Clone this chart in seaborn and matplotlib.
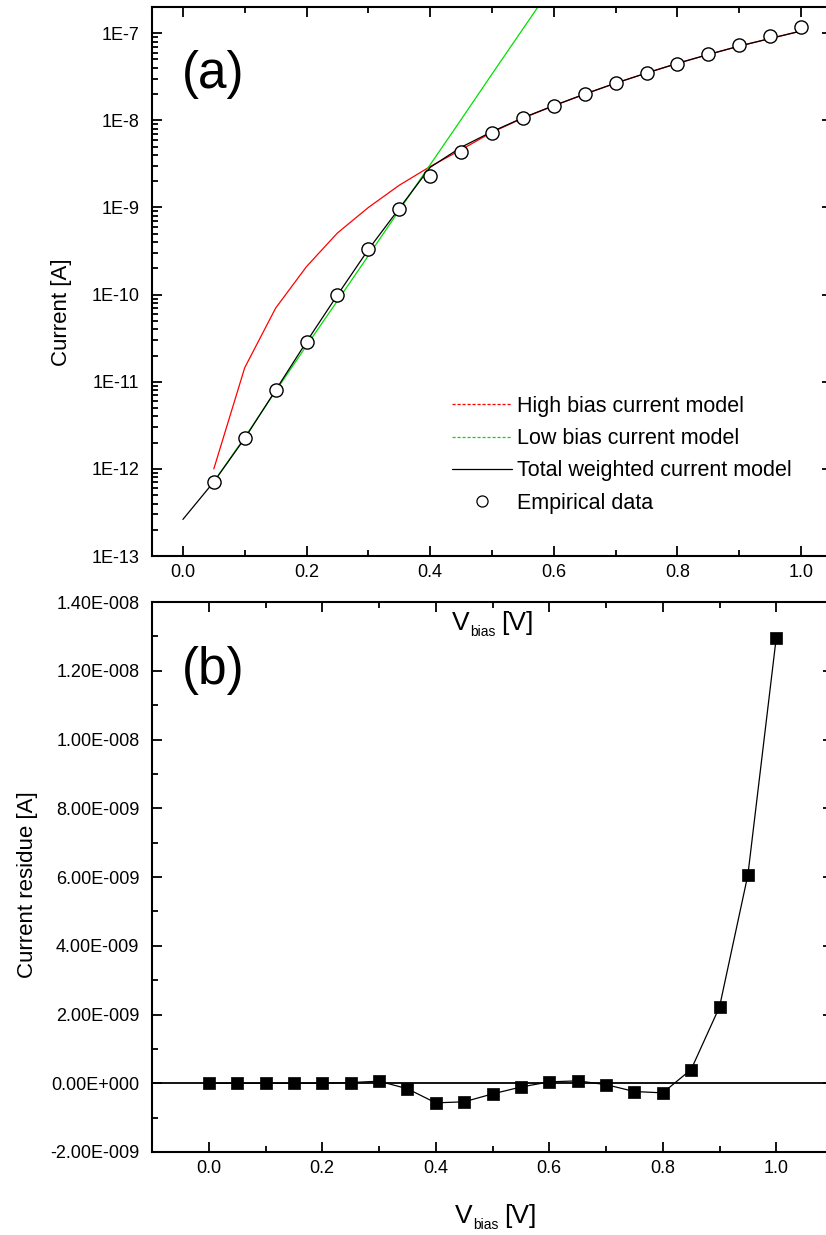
import numpy as np
import pandas as pd
import seaborn as sns
import matplotlib
matplotlib.use("Agg")
import matplotlib.pyplot as plt
from matplotlib.lines import Line2D
from matplotlib.ticker import FixedLocator, LogLocator, MultipleLocator, FuncFormatter, NullFormatter

# ---------------- data ----------------
v_data = [0.05, 0.10, 0.15, 0.20, 0.25, 0.30, 0.35, 0.40, 0.45, 0.50,
          0.55, 0.60, 0.65, 0.70, 0.75, 0.80, 0.85, 0.90, 0.95, 1.00]
i_data = [7.1e-13, 2.24e-12, 8.0e-12, 2.88e-11, 9.9e-11, 3.3e-10, 9.6e-10, 2.32e-9, 4.37e-9, 7.11e-9,
          1.06e-8, 1.48e-8, 2.01e-8, 2.67e-8, 3.47e-8, 4.48e-8, 5.74e-8, 7.34e-8, 9.31e-8, 1.19e-7]

v_total = [0.00, 0.05, 0.10, 0.15, 0.20, 0.25, 0.30, 0.35, 0.40, 0.45, 0.50,
           0.55, 0.60, 0.65, 0.70, 0.75, 0.80, 0.85, 0.90, 0.95, 1.00]
i_total = [2.63e-13, 7.1e-13, 2.24e-12, 8.0e-12, 2.88e-11, 9.9e-11, 3.29e-10, 9.76e-10, 2.89e-9, 4.91e-9, 7.42e-9,
           1.071e-8, 1.476e-8, 2.003e-8, 2.674e-8, 3.494e-8, 4.508e-8, 5.70e-8, 7.12e-8, 8.70e-8, 1.06e-7]

v_high = [0.05, 0.10, 0.15, 0.20, 0.25, 0.30, 0.35, 0.40, 0.45, 0.50,
          0.55, 0.60, 0.65, 0.70, 0.75, 0.80, 0.85, 0.90, 0.95, 1.00]
i_high = [1.0e-12, 1.45e-11, 7.0e-11, 2.1e-10, 5.1e-10, 1.0e-9, 1.8e-9, 2.95e-9, 4.6e-9, 7.3e-9,
          1.06e-8, 1.47e-8, 2.0e-8, 2.67e-8, 3.49e-8, 4.51e-8, 5.7e-8, 7.12e-8, 8.7e-8, 1.06e-7]

v_low = [0.05, 0.10, 0.15, 0.20, 0.25, 0.30, 0.35, 0.40, 0.45, 0.50, 0.55, 0.60]
i_low = [7.1e-13, 2.3e-12, 7.8e-12, 2.6e-11, 8.5e-11, 2.8e-10, 9.3e-10, 3.1e-9, 1.02e-8, 3.4e-8, 1.12e-7, 3.7e-7]

v_res = [0.00, 0.05, 0.10, 0.15, 0.20, 0.25, 0.30, 0.35, 0.40, 0.45, 0.50,
         0.55, 0.60, 0.65, 0.70, 0.75, 0.80, 0.85, 0.90, 0.95, 1.00]
i_res = [0.0, 0.0, 0.0, 0.0, 0.0, 0.02e-9, 0.06e-9, -0.16e-9, -0.57e-9, -0.54e-9, -0.31e-9,
         -0.11e-9, 0.04e-9, 0.07e-9, -0.04e-9, -0.24e-9, -0.28e-9, 0.40e-9, 2.22e-9, 6.06e-9, 12.96e-9]

legend_labels = ["High bias current model", "Low bias current model",
                 "Total weighted current model", "Empirical data"]
x_ticks = [0.0, 0.2, 0.4, 0.6, 0.8, 1.0]
log_ticks = [1e-13, 1e-12, 1e-11, 1e-10, 1e-9, 1e-8, 1e-7]
res_ticks = [-2e-9, 0.0, 2e-9, 4e-9, 6e-9, 8e-9, 1.0e-8, 1.2e-8, 1.4e-8]

df_data = pd.DataFrame({"V": v_data, "I": i_data})
df_total = pd.DataFrame({"V": v_total, "I": i_total})
df_high = pd.DataFrame({"V": v_high, "I": i_high})
df_low = pd.DataFrame({"V": v_low, "I": i_low})
df_res = pd.DataFrame({"V": v_res, "R": i_res})

# ---------------- style ----------------
sns.set_style("ticks")
plt.rcParams["font.family"] = ["Liberation Sans", "DejaVu Sans"]
plt.rcParams["text.color"] = "black"
plt.rcParams["axes.labelcolor"] = "black"

W, H = 826, 1235
fig = plt.figure(figsize=(W / 100, H / 100), dpi=100)
ax1 = fig.add_axes([152 / W, 1 - 556 / H, 680 / W, 549 / H])
ax2 = fig.add_axes([152 / W, 1 - 1152 / H, 681 / W, 550 / H])

RED = "#ff0000"
GREEN = "#00e000"

# ---------------- panel (a) ----------------
sns.lineplot(data=df_high, x="V", y="I", ax=ax1, color=RED, lw=0.9, estimator=None, sort=False)
sns.lineplot(data=df_low, x="V", y="I", ax=ax1, color=GREEN, lw=0.9, estimator=None, sort=False)
sns.lineplot(data=df_total, x="V", y="I", ax=ax1, color="black", lw=0.9, estimator=None, sort=False)
sns.scatterplot(data=df_data, x="V", y="I", ax=ax1, marker="o", s=90, facecolor="white",
                edgecolor="black", linewidth=1.0, zorder=5)
ax1.set_yscale("log")
ax1.set_ylim(1e-13, 2e-7)
ax1.set_xlim(-0.05, 1.05)
ax1.yaxis.set_major_locator(FixedLocator(log_ticks))
ax1.yaxis.set_major_formatter(FuncFormatter(lambda v, p: "1E%d" % int(round(np.log10(v)))))
ax1.yaxis.set_minor_locator(LogLocator(base=10, subs=np.arange(2, 10), numticks=20))
ax1.yaxis.set_minor_formatter(NullFormatter())
ax1.xaxis.set_major_locator(FixedLocator(x_ticks))
ax1.xaxis.set_minor_locator(MultipleLocator(0.1))
ax1.xaxis.set_major_formatter(FuncFormatter(lambda v, p: "%.1f" % v))
ax1.set_xlabel("")
ax1.set_ylabel("Current [A]", fontsize=16)
ax1.yaxis.set_label_coords(-0.1176, 0.444)

handles = [
    Line2D([], [], color=RED, lw=0.9, ls=(0, (2.5, 1.5))),
    Line2D([], [], color=GREEN, lw=0.9, ls=(0, (2.5, 1.5))),
    Line2D([], [], color="black", lw=0.9),
    Line2D([], [], color="black", ls="none", marker="o", markersize=8,
           markerfacecolor="white", markeredgecolor="black", markeredgewidth=0.9),
]
ax1.legend(handles, legend_labels, loc="upper left", bbox_to_anchor=(452 / W, 1 - 396 / H),
           bbox_transform=fig.transFigure, frameon=False, borderpad=0, borderaxespad=0,
           handlelength=2.8, handletextpad=0.24, labelspacing=0.52, fontsize=15.5)

# ---------------- panel (b) ----------------
ax2.axhline(0, color="black", lw=1.3, zorder=1)
sns.lineplot(data=df_res, x="V", y="R", ax=ax2, color="black", lw=0.9, estimator=None, sort=False, zorder=2)
sns.scatterplot(data=df_res, x="V", y="R", ax=ax2, marker="s", s=80, color="black",
                edgecolor="black", linewidth=0.5, zorder=5)
ax2.set_xlim(-0.1, 1.1)
ax2.set_ylim(-2e-9, 1.4e-8)
ax2.yaxis.set_major_locator(FixedLocator(res_ticks))
ax2.yaxis.set_minor_locator(MultipleLocator(1e-9))


def sci_fmt(v, p):
    s = "%.2E" % v
    m, e = s.split("E")
    return "%sE%+04d" % (m, int(e))


ax2.yaxis.set_major_formatter(FuncFormatter(sci_fmt))
ax2.xaxis.set_major_locator(FixedLocator(x_ticks))
ax2.xaxis.set_minor_locator(MultipleLocator(0.1))
ax2.xaxis.set_major_formatter(FuncFormatter(lambda v, p: "%.1f" % v))
ax2.set_xlabel("")
ax2.set_ylabel("Current residue [A]", fontsize=16)
ax2.yaxis.set_label_coords(-0.168, 0.4855)

for ax in (ax1, ax2):
    for s in ax.spines.values():
        s.set_color("black")
        s.set_linewidth(1.5)
        s.set_visible(True)
    ax.tick_params(which="both", direction="in", top=True, right=True, color="black",
                   labelcolor="black", width=1.3)
    ax.tick_params(which="major", length=7.5, labelsize=13)
    ax.tick_params(which="minor", length=4.5)
    ax.tick_params(axis="y", which="major", pad=9)
    ax.tick_params(axis="x", which="major", pad=6)
    ax.grid(False)

# panel letters
fig.text(182 / W, 1 - 88 / H, "(a)", fontsize=37, ha="left", va="baseline")
fig.text(182 / W, 1 - 684 / H, "(b)", fontsize=37, ha="left", va="baseline")


# composite x labels: V_bias [V]
def vbias_label(x_px, base_px):
    t1 = fig.text(x_px / W, 1 - base_px / H, "V", fontsize=19, ha="left", va="baseline")
    t2 = plt.annotate("bias", xy=(1, 0), xycoords=t1, xytext=(0.5, -1), textcoords="offset points",
                      fontsize=10, ha="left", va="baseline", annotation_clip=False)
    plt.annotate("[V]", xy=(1, 0), xycoords=(t2, t1), xytext=(4, 0), textcoords="offset points",
                 fontsize=19, ha="left", va="bottom", annotation_clip=False)


vbias_label(452, 630)
vbias_label(455, 1223)

fig.savefig("out.png", dpi=100)
